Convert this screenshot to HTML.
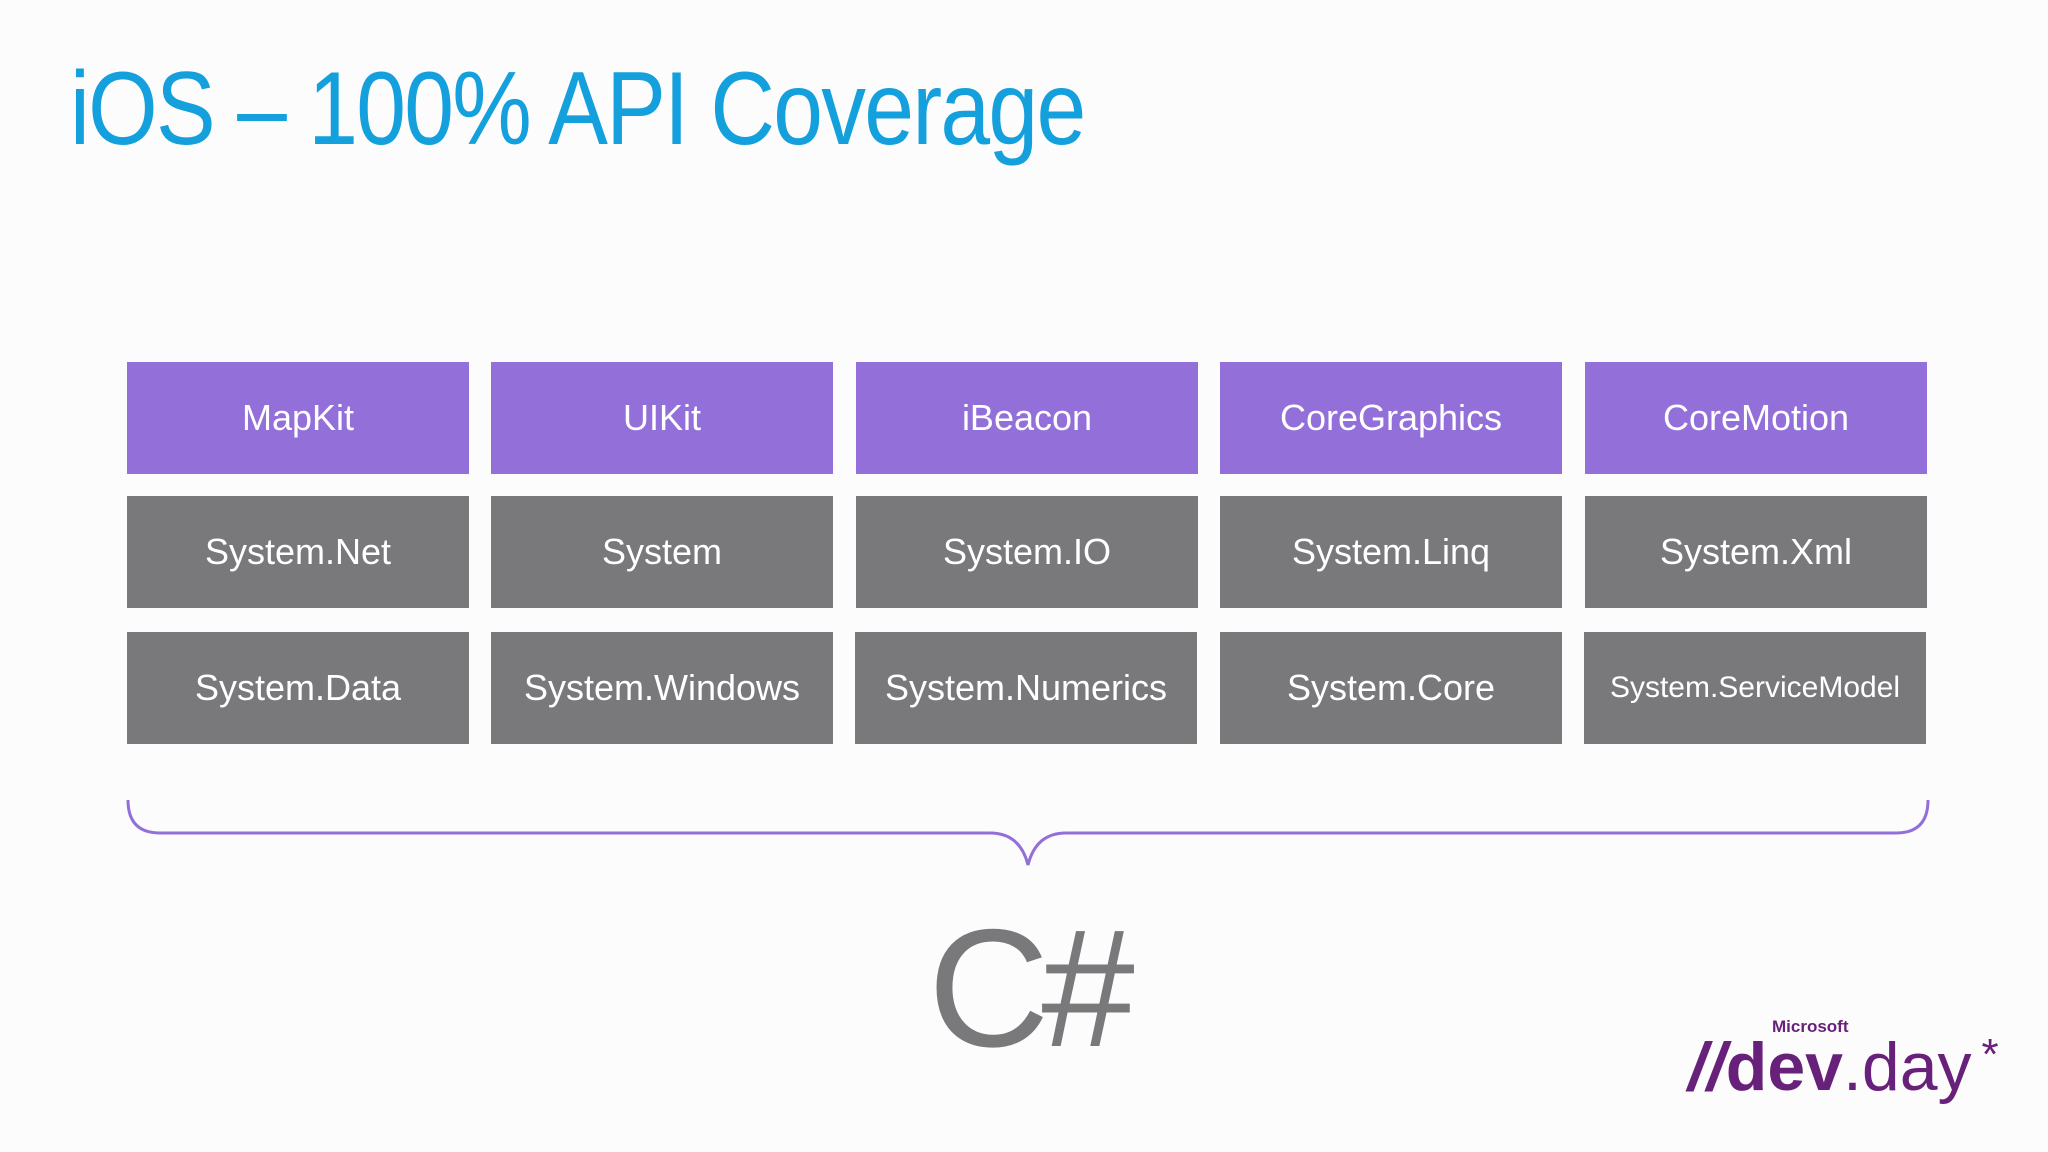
<!DOCTYPE html>
<html><head><meta charset="utf-8">
<style>
html,body{margin:0;padding:0;}
body{width:2048px;height:1152px;background:#fdfcfd;position:relative;overflow:hidden;font-family:"Segoe UI","Liberation Sans","DejaVu Sans",sans-serif;}
.title{position:absolute;left:70px;top:50px;font-size:104px;color:#14a0dc;font-weight:300;letter-spacing:-2px;white-space:nowrap;transform:scaleX(0.86);transform-origin:left top;}
.box{position:absolute;width:342px;height:112px;display:flex;align-items:center;justify-content:center;color:#fff;font-size:36px;}
.p{background:#9370d9;}
.g{background:#79787b;}
.cs{position:absolute;left:928px;top:892px;font-size:168px;color:#79787b;font-weight:300;letter-spacing:-8px;}
.ms{position:absolute;left:1772px;top:1017px;font-size:17px;color:#68217a;font-weight:bold;}
.logo{position:absolute;left:1688px;top:1033px;font-size:68px;color:#68217a;white-space:nowrap;line-height:1;}
</style></head><body>
<div class="title">iOS – 100% API Coverage</div>

<div class="box p" style="left:127px;top:362px">MapKit</div>
<div class="box p" style="left:491px;top:362px">UIKit</div>
<div class="box p" style="left:856px;top:362px">iBeacon</div>
<div class="box p" style="left:1220px;top:362px">CoreGraphics</div>
<div class="box p" style="left:1585px;top:362px">CoreMotion</div>

<div class="box g" style="left:127px;top:496px">System.Net</div>
<div class="box g" style="left:491px;top:496px">System</div>
<div class="box g" style="left:856px;top:496px">System.IO</div>
<div class="box g" style="left:1220px;top:496px">System.Linq</div>
<div class="box g" style="left:1585px;top:496px">System.Xml</div>

<div class="box g" style="left:127px;top:632px">System.Data</div>
<div class="box g" style="left:491px;top:632px">System.Windows</div>
<div class="box g" style="left:855px;top:632px">System.Numerics</div>
<div class="box g" style="left:1220px;top:632px">System.Core</div>
<div class="box g" style="left:1584px;top:632px;font-size:30px">System.ServiceModel</div>

<svg style="position:absolute;left:0;top:0" width="2048" height="1152">
<path d="M128 800 Q128 833 160 833 L990 833 Q1020 833 1028 865 Q1036 833 1066 833 L1896 833 Q1928 833 1928 800" fill="none" stroke="#9370d9" stroke-width="3"/>
</svg>

<div class="cs">C#</div>
<div class="ms">Microsoft</div>
<div class="logo"><span style="font-weight:bold;font-style:italic">//</span><span style="font-weight:bold">dev</span><span style="font-weight:300">.day</span><span style="font-size:44px;vertical-align:top;margin-left:10px">*</span></div>
</body></html>
